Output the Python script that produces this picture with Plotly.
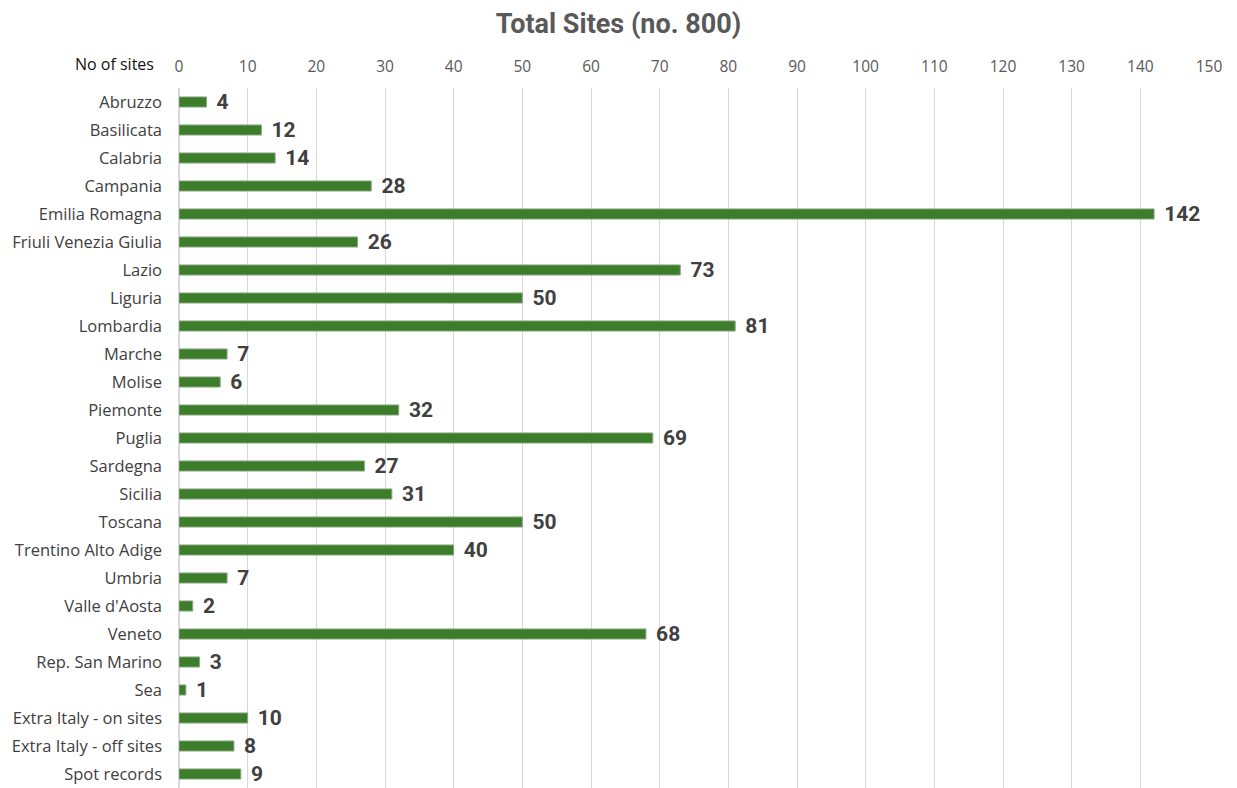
import plotly.graph_objects as go

regions = [
    "Abruzzo", "Basilicata", "Calabria", "Campania", "Emilia Romagna",
    "Friuli Venezia Giulia", "Lazio", "Liguria", "Lombardia", "Marche",
    "Molise", "Piemonte", "Puglia", "Sardegna", "Sicilia", "Toscana",
    "Trentino Alto Adige", "Umbria", "Valle d'Aosta", "Veneto",
    "Rep. San Marino", "Sea", "Extra Italy - on sites",
    "Extra Italy - off sites", "Spot records",
]
sites = [4, 12, 14, 28, 142, 26, 73, 50, 81, 7, 6, 32, 69, 27, 31, 50,
         40, 7, 2, 68, 3, 1, 10, 8, 9]
x_ticks = list(range(0, 151, 10))

fig = go.Figure(
    go.Bar(
        x=sites,
        y=regions,
        orientation="h",
        width=0.36,
        marker=dict(color="#3b7d2b", line=dict(color="#8aa682", width=1)),
        text=[f"\u2004{v}" for v in sites],
        textposition="outside",
        constraintext="none",
        cliponaxis=False,
        textfont=dict(family="Roboto", size=21, color="#404040", weight="bold"),
    )
)

fig.update_layout(
    width=1237,
    height=788,
    margin=dict(l=179, r=28, t=88, b=0),
    plot_bgcolor="white",
    paper_bgcolor="white",
    showlegend=False,
    title=dict(
        text="<b>Total Sites (no. 800)</b>",
        x=0.5,
        xanchor="center",
        y=0.97,
        yanchor="middle",
        font=dict(family="Roboto", size=27, color="#595959"),
    ),
    xaxis=dict(
        side="top",
        range=[0, 150],
        tickvals=x_ticks,
        showgrid=True,
        gridcolor="#d9d9d9",
        gridwidth=1,
        zeroline=True,
        zerolinecolor="#d9d9d9",
        showline=False,
        ticks="",
        tickfont=dict(family="Open Sans", size=15.5, color="#595959"),
        ticklabelstandoff=12,
    ),
    yaxis=dict(
        autorange=False,
        range=[24.5, -0.5],
        ticks="",
        showgrid=False,
        tickfont=dict(family="Open Sans", size=16.5, color="#404040"),
        ticklabelstandoff=16,
    ),
    annotations=[
        dict(
            text="No of sites",
            xref="paper",
            yref="paper",
            x=-0.022,
            y=1.0,
            xanchor="right",
            yanchor="bottom",
            yshift=11,
            showarrow=False,
            font=dict(family="Open Sans", size=16, color="#111111"),
        )
    ],
)

fig.write_html("out.html")
